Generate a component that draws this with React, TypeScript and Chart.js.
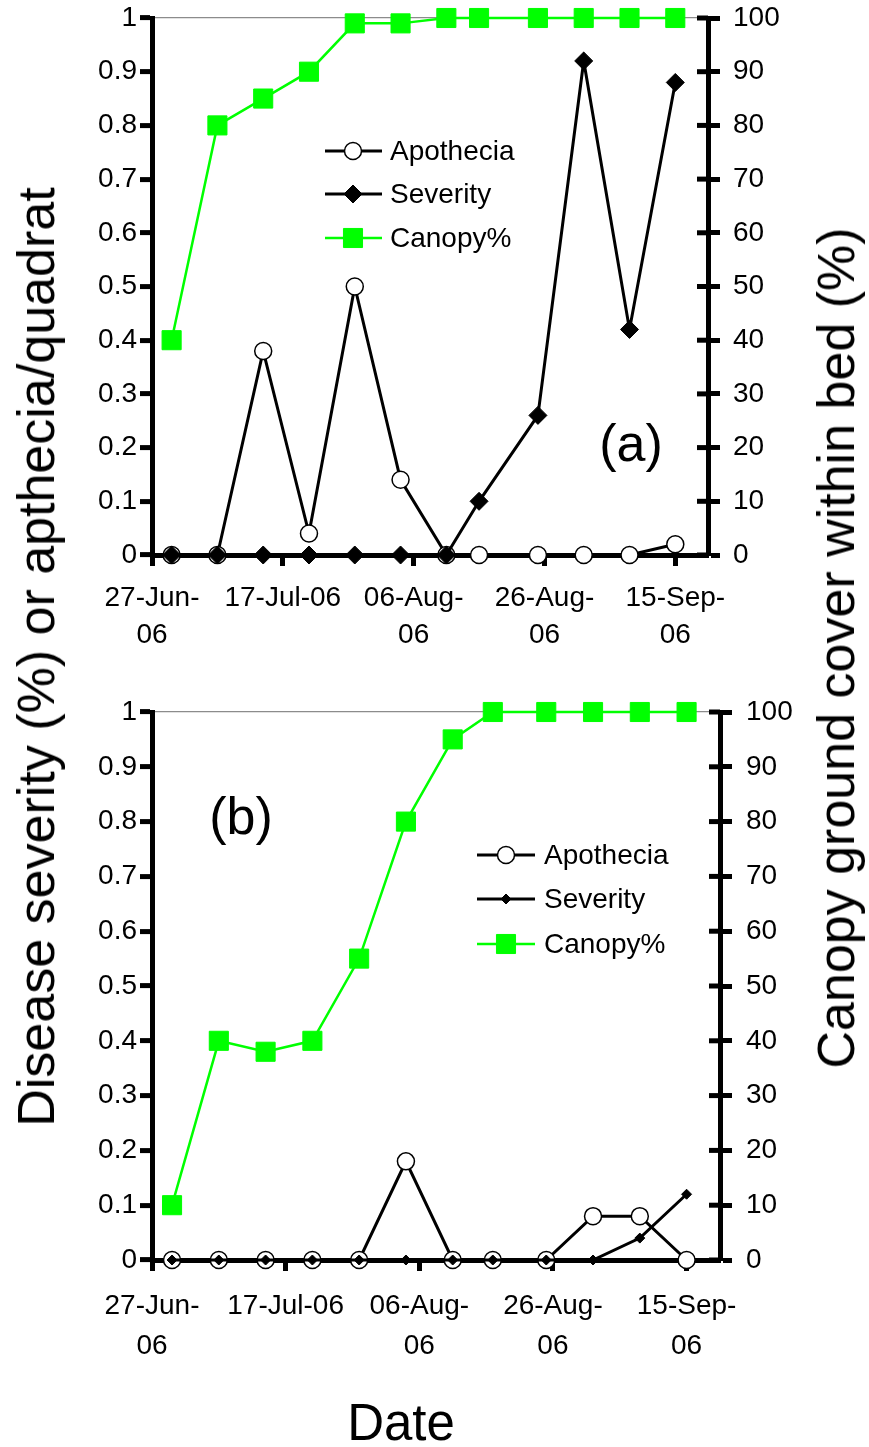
import React, { useEffect, useRef } from "react";
import { Chart, registerables } from "chart.js";

Chart.register(...registerables);

const FONT = "'Liberation Sans', Arial, Helvetica, sans-serif";

// ---------- data ----------
const axisStart = "2006-06-27";
const axisEnd = "2006-09-20";
const xTickDates = ["2006-06-27", "2006-07-17", "2006-08-06", "2006-08-26", "2006-09-15"];
const xTickLabels: (string | string[])[] = [
  ["27-Jun-", "06"],
  "17-Jul-06",
  ["06-Aug-", "06"],
  ["26-Aug-", "06"],
  ["15-Sep-", "06"],
];
const yLeftTickLabels = ["0", "0.1", "0.2", "0.3", "0.4", "0.5", "0.6", "0.7", "0.8", "0.9", "1"];
const yRightTickLabels = ["0", "10", "20", "30", "40", "50", "60", "70", "80", "90", "100"];
const seriesNames = ["Apothecia", "Severity", "Canopy%"];

const datesA = [
  "2006-06-30", "2006-07-07", "2006-07-14", "2006-07-21", "2006-07-28", "2006-08-04",
  "2006-08-11", "2006-08-16", "2006-08-25", "2006-09-01", "2006-09-08", "2006-09-15",
];
const apotheciaA = [0, 0, 0.38, 0.04, 0.5, 0.14, 0, 0, 0, 0, 0, 0.02];
const severityA = [0, 0, 0, 0, 0, 0, 0, 0.1, 0.26, 0.92, 0.42, 0.88];
const canopyA = [40, 80, 85, 90, 99, 99, 100, 100, 100, 100, 100, 100];

const datesB = [
  "2006-06-30", "2006-07-07", "2006-07-14", "2006-07-21", "2006-07-28", "2006-08-04",
  "2006-08-11", "2006-08-17", "2006-08-25", "2006-09-01", "2006-09-08", "2006-09-15",
];
const apotheciaB = [0, 0, 0, 0, 0, 0.18, 0, 0, 0, 0.08, 0.08, 0];
const severityB = [0, 0, 0, 0, 0, 0, 0, 0, 0, 0, 0.04, 0.12];
const canopyB = [10, 40, 38, 40, 55, 80, 95, 100, 100, 100, 100, 100];

// ---------- helpers ----------
const DAY = 86400000;
const dayOf = (d: string) => (Date.parse(d) - Date.parse(axisStart)) / DAY;

function drawMarker(
  ctx: CanvasRenderingContext2D,
  style: string,
  x: number,
  y: number,
  r: number,
  fill: string,
  stroke: string,
  bw: number
) {
  ctx.beginPath();
  if (style === "circle") {
    ctx.arc(x, y, r, 0, Math.PI * 2);
  } else if (style === "rectRot") {
    ctx.moveTo(x, y - r);
    ctx.lineTo(x + r, y);
    ctx.lineTo(x, y + r);
    ctx.lineTo(x - r, y);
    ctx.closePath();
  } else {
    const s = r * Math.SQRT1_2;
    ctx.rect(x - s, y - s, 2 * s, 2 * s);
  }
  ctx.fillStyle = fill;
  ctx.fill();
  ctx.lineWidth = bw;
  ctx.strokeStyle = stroke;
  ctx.stroke();
}

type PanelProps = {
  dates: string[];
  apothecia: number[];
  severity: number[];
  canopy: number[];
  top: number;
  height: number;
  padTop: number;
  plotRight: number;
  plotBottom: number;
  xPadding: number;
  xLineHeight: number;
  rightPadding: number;
  severityRadius: number;
  legend: { x0: number; x1: number; mx: number; tx: number; rows: number[] };
};

function Panel(p: PanelProps) {
  const ref = useRef<HTMLCanvasElement | null>(null);

  useEffect(() => {
    if (!ref.current) return;
    const W = 869;
    const tickFont = { family: FONT, size: 28 };

    const innerTicks = {
      id: "innerTicks",
      beforeDatasetsDraw(chart: any) {
        const s = chart.scales.y1;
        const ctx = chart.ctx as CanvasRenderingContext2D;
        const right = chart.chartArea.right;
        ctx.save();
        ctx.strokeStyle = "#000";
        ctx.lineWidth = 5;
        s.ticks.forEach((t: any) => {
          const y = s.getPixelForValue(t.value);
          ctx.beginPath();
          ctx.moveTo(right - 11, y);
          ctx.lineTo(right, y);
          ctx.stroke();
        });
        ctx.restore();
      },
    };

    const legendPlugin = {
      id: "panelLegend",
      afterDatasetsDraw(chart: any) {
        const ctx = chart.ctx as CanvasRenderingContext2D;
        const L = p.legend;
        ctx.save();
        chart.data.datasets.forEach((ds: any, i: number) => {
          const y = L.rows[i];
          ctx.beginPath();
          ctx.strokeStyle = ds.borderColor;
          ctx.lineWidth = ds.borderWidth;
          ctx.moveTo(L.x0, y);
          ctx.lineTo(L.x1, y);
          ctx.stroke();
          drawMarker(
            ctx,
            ds.pointStyle,
            L.mx,
            y,
            ds.pointRadius,
            ds.pointBackgroundColor,
            ds.pointBorderColor,
            ds.pointBorderWidth
          );
          ctx.fillStyle = "#000";
          ctx.font = `28px ${FONT}`;
          ctx.textAlign = "left";
          ctx.textBaseline = "middle";
          ctx.fillText(ds.label, L.tx, y + 1);
        });
        ctx.restore();
      },
    };

    const noPadV = (s: any) => {
      s.paddingTop = 0;
      s.paddingBottom = 0;
    };

    const chart = new Chart(ref.current, {
      type: "line",
      data: {
        datasets: [
          {
            label: seriesNames[0],
            data: p.dates.map((d, i) => ({ x: dayOf(d), y: p.apothecia[i] })),
            yAxisID: "y",
            borderColor: "#000",
            borderWidth: 3,
            pointStyle: "circle",
            pointRadius: 8.5,
            pointHoverRadius: 8.5,
            pointBackgroundColor: "#fff",
            pointBorderColor: "#000",
            pointBorderWidth: 1.5,
            order: 1,
            clip: false,
          } as any,
          {
            label: seriesNames[1],
            data: p.dates.map((d, i) => ({ x: dayOf(d), y: p.severity[i] })),
            yAxisID: "y",
            borderColor: "#000",
            borderWidth: 3,
            pointStyle: "rectRot",
            pointRadius: p.severityRadius,
            pointHoverRadius: p.severityRadius,
            pointBackgroundColor: "#000",
            pointBorderColor: "#000",
            pointBorderWidth: 1,
            order: 0,
            clip: false,
          } as any,
          {
            label: seriesNames[2],
            data: p.dates.map((d, i) => ({ x: dayOf(d), y: p.canopy[i] })),
            yAxisID: "y1",
            borderColor: "#00ff00",
            borderWidth: 2.5,
            pointStyle: "rect",
            pointRadius: 13.5,
            pointHoverRadius: 13.5,
            pointBackgroundColor: "#00ff00",
            pointBorderColor: "#00ff00",
            pointBorderWidth: 1,
            order: 2,
            clip: false,
          } as any,
        ],
      },
      options: {
        responsive: false,
        animation: false,
        events: [],
        layout: { padding: { top: p.padTop, left: 0, right: 0, bottom: 0 } },
        plugins: { legend: { display: false }, tooltip: { enabled: false } },
        scales: {
          x: {
            type: "linear",
            min: dayOf(axisStart),
            max: dayOf(axisEnd),
            afterBuildTicks: (s: any) => {
              s.ticks = xTickDates.map((d) => ({ value: dayOf(d) }));
            },
            ticks: {
              callback: (_v: any, i: number) => xTickLabels[i],
              font: { ...tickFont, lineHeight: p.xLineHeight },
              color: "#000",
              padding: p.xPadding,
              maxRotation: 0,
              minRotation: 0,
              autoSkip: false,
            },
            grid: {
              drawOnChartArea: false,
              tickLength: 11,
              tickWidth: 5,
              tickColor: "#000",
            },
            border: { width: 5, color: "#000" },
            afterFit: (s: any) => {
              s.height = p.height - p.plotBottom;
              s.paddingLeft = 0;
              s.paddingRight = 0;
            },
          } as any,
          y: {
            position: "left",
            min: 0,
            max: 1,
            ticks: {
              stepSize: 0.1,
              callback: (_v: any, i: number) => yLeftTickLabels[i],
              font: tickFont,
              color: "#000",
              padding: 3,
            },
            grid: {
              drawOnChartArea: true,
              color: (c: any) =>
                c.tick && Math.abs(c.tick.value - 1) < 1e-6 ? "#8c8c8c" : "rgba(0,0,0,0)",
              lineWidth: 1.2,
              tickLength: 12,
              tickWidth: 5,
              tickColor: "#000",
            },
            border: { width: 5, color: "#000" },
            afterFit: (s: any) => {
              s.width = 152;
              noPadV(s);
            },
          } as any,
          y1: {
            position: "right",
            min: 0,
            max: 100,
            ticks: {
              stepSize: 10,
              callback: (_v: any, i: number) => yRightTickLabels[i],
              font: tickFont,
              color: "#000",
              padding: p.rightPadding,
            },
            grid: {
              drawOnChartArea: false,
              tickLength: 12,
              tickWidth: 5,
              tickColor: "#000",
            },
            border: { width: 5, color: "#000" },
            afterFit: (s: any) => {
              s.width = W - p.plotRight;
              noPadV(s);
            },
          } as any,
        },
      },
      plugins: [innerTicks, legendPlugin],
    });
    return () => chart.destroy();
  }, []);

  return (
    <canvas
      ref={ref}
      width={869}
      height={p.height}
      style={{ position: "absolute", left: 0, top: p.top, width: 869, height: p.height }}
    />
  );
}

const titleBase: React.CSSProperties = {
  position: "absolute",
  fontFamily: FONT,
  color: "#000",
  lineHeight: 1,
  whiteSpace: "nowrap",
  pointerEvents: "none",
};

export default function App() {
  return (
    <div
      style={{
        position: "absolute",
        left: 0,
        top: 0,
        width: 869,
        height: 1447,
        background: "#fff",
        overflow: "hidden",
      }}
    >
      <Panel
        dates={datesA}
        apothecia={apotheciaA}
        severity={severityA}
        canopy={canopyA}
        top={0}
        height={680}
        padTop={18}
        plotRight={708}
        plotBottom={555}
        xPadding={13.5}
        xLineHeight={1.32}
        rightPadding={13}
        severityRadius={9}
        legend={{ x0: 325, x1: 382, mx: 353, tx: 390, rows: [151, 194, 238] }}
      />
      <Panel
        dates={datesB}
        apothecia={apotheciaB}
        severity={severityB}
        canopy={canopyB}
        top={680}
        height={767}
        padTop={32}
        plotRight={720}
        plotBottom={580}
        xPadding={16}
        xLineHeight={1.41}
        rightPadding={14}
        severityRadius={5}
        legend={{ x0: 477, x1: 535, mx: 506, tx: 544, rows: [175, 219, 264] }}
      />
      <div style={{ ...titleBase, fontSize: 52, left: 631, top: 442.5, transform: "translate(-50%,-50%)" }}>
        (a)
      </div>
      <div style={{ ...titleBase, fontSize: 52, left: 241, top: 815.5, transform: "translate(-50%,-50%)" }}>
        (b)
      </div>
      <div
        style={{
          ...titleBase,
          fontSize: 52,
          left: 36,
          top: 657,
          transform: "translate(-50%,-50%) rotate(-90deg)",
        }}
      >
        Disease severity (%) or apthecia/quadrat
      </div>
      <div
        style={{
          ...titleBase,
          fontSize: 52,
          left: 836,
          top: 648,
          transform: "translate(-50%,-50%) rotate(-90deg)",
        }}
      >
        Canopy ground cover within bed (%)
      </div>
      <div style={{ ...titleBase, fontSize: 51, left: 401, top: 1422, transform: "translate(-50%,-50%)" }}>
        Date
      </div>
    </div>
  );
}
